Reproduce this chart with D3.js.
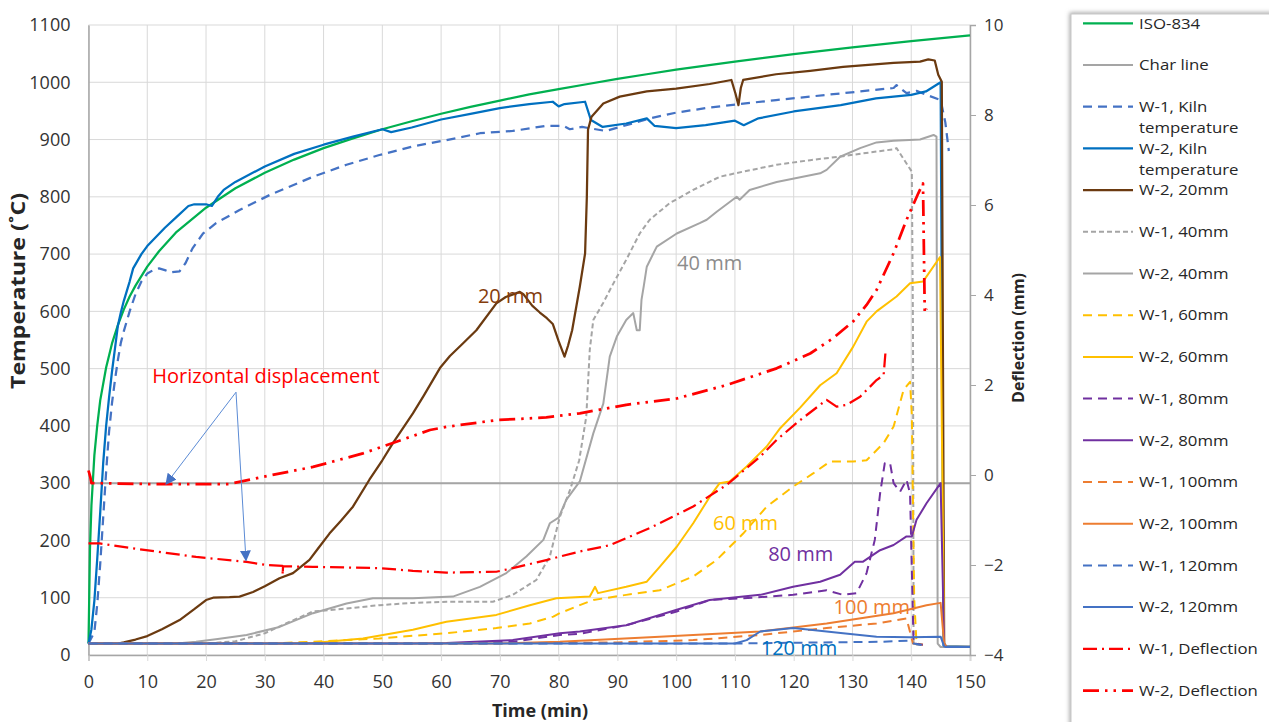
<!DOCTYPE html>
<html>
<head>
<meta charset="utf-8">
<script src="https://cdn.jsdelivr.net/npm/d3@7"></script>
<style>
  html, body { margin: 0; padding: 0; background: #ffffff; }
  svg { display: block; font-family: "Open Sans", "Noto Sans", sans-serif; }
</style>
</head>
<body>
<svg id="chart" width="1269" height="722"></svg>
<script>
// ---- Data: [time (min), temperature (°C)] ----
const iso834 = [[0,20],[0.25,185],[0.5,261],[1,349],[1.5,402],[2,445],[3,502],[4,544],[5,576],[6,603],[7,626],[8,645],[10,678],[12,705],[15,739],[20,781],[25,815],[30,842],[35,865],[40,885],[45,902],[50,918],[55,932],[60,945],[65,957],[70,968],[75,979],[80,988],[85,997],[90,1006],[95,1014],[100,1022],[110,1036],[120,1049],[130,1061],[140,1072],[150,1082]];
const charLine = [[0,300],[150,300]];
const w1Kiln = [[0,20],[1,40],[1.5,90],[2,160],[2.5,240],[3,320],[3.5,390],[4,440],[4.5,480],[5,515],[5.5,545],[6,565],[7,600],[8,630],[9,652],[10,666],[11,672],[12,675],[13,672],[14,668],[15.5,670],[16.5,684],[17.7,710],[19.5,736],[21.7,754],[25.7,777],[30.8,803],[38.2,835],[43.9,856],[49.5,873],[55.2,888],[60.9,899],[66.6,911],[72.2,915],[77.9,924],[80.8,924],[81.9,918],[84,922],[88,915],[91.5,925],[95.5,937],[100,947],[105.7,956],[110.8,962],[117,969],[125.6,978],[137,990],[137.5,995],[139.2,981],[140.9,985],[142.6,978],[145,969],[145.8,930],[146.4,880]];
const w2Kiln = [[0,20],[0.5,45],[1,95],[1.5,170],[2,250],[2.5,335],[3,400],[3.5,450],[4,495],[4.5,535],[5,575],[5.5,598],[6,618],[7,652],[7.6,675],[9,700],[10,714],[13,746],[15,765],[17,784],[18,787],[20,787],[21,784],[22,800],[23,812],[25,826],[30,853],[35,875],[40,891],[45,905],[50,918],[51.5,913],[55,921],[60,935],[65,945],[70,955],[75,962],[79,966],[80,958],[81,962],[84.5,966],[85.5,934],[87.5,922],[91.5,928],[95,937],[96.3,924],[100,920],[105,925],[110,933],[111.5,925],[114,937],[120,949],[128,960],[134,972],[140,978],[142.5,984],[145,1000],[145.5,15],[150,14]];
const w2_20mm = [[0,20],[5,20],[6,22],[8,27],[10,33],[12.5,45],[15.5,61],[18,80],[20,96],[21.2,100],[24,101],[25.7,102],[28,110],[30,120],[32.5,134],[34.8,143],[37.6,166],[39,185],[41,212],[43,235],[45,259],[47.8,306],[50,340],[51.8,370],[55.2,422],[57,452],[59.8,501],[61.5,522],[63.7,544],[66,567],[69.4,614],[71,625],[73.4,634],[74,630],[75.5,610],[76.8,598],[78,588],[79,578],[80,548],[81,521],[81.6,540],[82.3,567],[83.6,643],[84.5,701],[84.8,800],[85,917],[85.6,940],[87.6,963],[90.4,975],[95,984],[100,989],[105.7,997],[109.4,1004],[110.1,980],[110.6,960],[111,990],[111.4,1004],[117,1014],[122.8,1020],[128.4,1027],[137,1034],[141.5,1036],[142.9,1040],[144,1038],[144.6,1013],[145.2,1001],[145.6,20],[146,14],[150,14]];
const w1_40mm = [[0,20],[20,20],[25,24],[30,38],[33.6,55],[38.2,76],[43.9,81],[49.5,87],[55.2,91],[60.9,93],[68.8,93],[72.2,105],[76.2,131],[78.5,172],[80.2,241],[82,290],[83.5,340],[84.7,416],[85.3,533],[85.9,585],[87.6,615],[88.7,637],[91.5,690],[93.8,736],[95.5,760],[98.9,789],[102.9,812],[107.4,835],[111.4,844],[117.1,856],[122.8,864],[128.4,871],[134.1,879],[137,883],[137.5,885],[140.1,844],[140.3,567],[140.4,20],[141,18],[142,18]];
const w2_40mm = [[0,20],[15,20],[18.3,23],[22,28],[26.9,35],[32.5,49],[38.2,73],[43.9,90],[48.4,99],[55.2,99],[62,102],[66.6,119],[71.1,143],[74.5,172],[77.4,201],[78.5,230],[80,240],[81.3,271],[83.6,303],[85.9,387],[87.6,439],[88.7,521],[89.9,556],[91.5,585],[92.7,597],[93.3,567],[93.8,567],[94.1,620],[94.5,645],[95,678],[96.7,713],[100.1,736],[104,754],[105.2,760],[106.9,774],[110.3,800],[110.8,795],[112.5,812],[117.1,826],[124.5,841],[125.6,847],[127.9,870],[131.3,885],[134.1,895],[137,898],[141.5,900],[143.8,908],[144.3,905],[144.5,20],[145,14],[150,14]];
const w1_60mm = [[0,20],[30,20],[38.2,23],[49.5,29],[60.9,38],[69.4,47],[75.1,55],[79.1,67],[80.2,73],[83.6,87],[85.9,96],[91.5,105],[97.2,113],[102.9,137],[106.9,166],[111.4,212],[115.4,259],[119.9,294],[123.3,317],[126.2,338],[130.1,338],[132.4,340],[135.3,370],[137,399],[138.7,463],[139.8,477],[140.1,420],[140.5,100],[140.9,20],[142,18]];
const w2_60mm = [[0,20],[35,20],[38.2,21],[46.7,29],[55.2,44],[60.9,58],[69.4,70],[75.1,87],[79.6,99],[85.3,102],[86.2,119],[86.7,108],[91.5,119],[95,128],[97.2,154],[100.1,189],[102.9,230],[105.7,276],[107.4,300],[109.1,303],[112,329],[115.4,364],[117.7,396],[121.1,432],[124.5,471],[127.3,492],[130.1,538],[132.4,582],[134.1,600],[137.5,626],[139.8,649],[142,652],[144.9,695],[145.6,20],[146,14],[150,14]];
const w1_80mm = [[0,20],[60,20],[72.2,23],[80.2,35],[83.6,37],[91.5,52],[100.1,76],[105.7,96],[111.4,99],[119.9,105],[125.6,113],[128.4,105],[130.7,108],[132.4,143],[133.8,201],[134.7,282],[135.5,335],[136.4,335],[137,300],[138.1,285],[139.2,306],[139.8,282],[140.1,150],[140.4,20],[142,18]];
const w2_80mm = [[0,20],[55,20],[60.9,21],[72.2,26],[80.2,38],[83.6,41],[91.5,52],[100.1,79],[105.7,96],[114.3,105],[119.9,119],[124.5,128],[127.9,140],[130.4,163],[131.8,163],[134.7,183],[137,192],[139.2,207],[140.1,207],[140.9,236],[142.6,265],[145,300],[145.6,20],[146,14],[150,14]];
const w1_100mm = [[0,20],[70,20],[90,22],[102.9,26],[114.3,35],[125.6,47],[134.1,55],[139.2,64],[139.8,40],[140.3,20],[142,18]];
const w2_100mm = [[0,20],[70,20],[80.2,23],[97.2,32],[114.3,41],[125.6,55],[137,73],[142.6,87],[145,91],[145.6,20],[146,14],[150,14]];
const w1_120mm = [[0,20],[110,20],[125,22],[135,23],[139.5,25],[140.4,20],[142,17]];
const w2_120mm = [[0,20],[110,20],[112,26],[114.3,41],[117.1,44],[119.9,47],[122.8,44],[128.4,38],[134.1,32],[139.8,31],[145,32],[145.6,15],[146,14],[150,14]];

// ---- Data: [time (min), deflection (mm)] ----
const w1Deflection = [[0,-1.52],[1.9,-1.52],[9.8,-1.67],[18.3,-1.82],[26.9,-1.93],[30.3,-2.0],[33,-2.02],[33.05,-2.22],[33.1,-2.03],[38.2,-2.04],[49.5,-2.07],[55.2,-2.13],[60.9,-2.17],[69.4,-2.15],[72.2,-2.07],[77.9,-1.89],[83.6,-1.7],[88.7,-1.56],[95.5,-1.18],[102.9,-0.7],[108.6,-0.22],[114.3,0.41],[117.1,0.78],[121.1,1.22],[125.6,1.67],[127.3,1.52],[129,1.56],[131.3,1.74],[134.1,2.11],[135.3,2.22],[135.6,2.7]];
const w2Deflection = [[0,0.1],[0.3,-0.04],[0.5,-0.18],[9.8,-0.2],[24,-0.2],[29.7,-0.04],[38.2,0.18],[46.7,0.48],[52.4,0.74],[58.1,1.0],[60.9,1.07],[69.4,1.22],[77.9,1.28],[83.6,1.37],[91.5,1.56],[100.1,1.7],[108.6,2.0],[117.1,2.37],[122.8,2.7],[126.7,3.04],[130.1,3.41],[132.4,3.78],[134.1,4.11],[137,4.93],[139.2,5.67],[141.2,6.26],[142,6.48],[142.3,3.6],[142.6,3.7]];

// ---- Axis ticks ----
const timeTicks = d3.range(0, 151, 10);
const tempTicks = d3.range(0, 1101, 100);
const deflTicks = d3.range(-4, 11, 2);

// ---- Series definitions ----
const series = [
  { name: "ISO-834", data: iso834, color: "#00B050", width: 2.25, dash: null, axis: "T" },
  { name: "Char line", data: charLine, color: "#A5A5A5", width: 2, dash: null, axis: "T" },
  { name: ["W-1, Kiln", "temperature"], data: w1Kiln, color: "#4472C4", width: 2.25, dash: "9,6", axis: "T" },
  { name: ["W-2, Kiln", "temperature"], data: w2Kiln, color: "#0070C0", width: 2.25, dash: null, axis: "T" },
  { name: "W-2, 20mm", data: w2_20mm, color: "#6B3A10", width: 2.25, dash: null, axis: "T" },
  { name: "W-1, 40mm", data: w1_40mm, color: "#A5A5A5", width: 2, dash: "5,3", axis: "T" },
  { name: "W-2, 40mm", data: w2_40mm, color: "#A5A5A5", width: 2, dash: null, axis: "T" },
  { name: "W-1, 60mm", data: w1_60mm, color: "#FFC000", width: 2, dash: "9,6", axis: "T" },
  { name: "W-2, 60mm", data: w2_60mm, color: "#FFC000", width: 2, dash: null, axis: "T" },
  { name: "W-1, 80mm", data: w1_80mm, color: "#7030A0", width: 2, dash: "9,6", axis: "T" },
  { name: "W-2, 80mm", data: w2_80mm, color: "#7030A0", width: 2, dash: null, axis: "T" },
  { name: "W-1, 100mm", data: w1_100mm, color: "#ED7D31", width: 2, dash: "9,6", axis: "T" },
  { name: "W-2, 100mm", data: w2_100mm, color: "#ED7D31", width: 2, dash: null, axis: "T" },
  { name: "W-1, 120mm", data: w1_120mm, color: "#4472C4", width: 2, dash: "9,6", axis: "T" },
  { name: "W-2, 120mm", data: w2_120mm, color: "#4472C4", width: 2, dash: null, axis: "T" },
  { name: "W-1, Deflection", data: w1Deflection, color: "#FF0000", width: 2.25, dash: "14,5,2,5", axis: "D" },
  { name: "W-2, Deflection", data: w2Deflection, color: "#FF0000", width: 2.75, dash: "16,6,2.5,6,2.5,6", axis: "D" }
];

// ---- Layout ----
const svg = d3.select("#chart");
const plot = { left: 88.5, right: 970, top: 25, bottom: 655 };

const x = d3.scaleLinear().domain([0, 150]).range([plot.left, plot.right]);
const yT = d3.scaleLinear().domain([0, 1100]).range([plot.bottom, plot.top]);
const yD = d3.scaleLinear().domain([-4, 10]).range([plot.bottom, plot.top]);

const textColor = "#333333";
const gridColor = "#D9D9D9";
const axisColor = "#A6A6A6";

// Gridlines
const grid = svg.append("g");
grid.selectAll("line.h").data(tempTicks).join("line")
  .attr("x1", plot.left).attr("x2", plot.right)
  .attr("y1", d => yT(d)).attr("y2", d => yT(d))
  .attr("stroke", gridColor).attr("stroke-width", 1);
grid.selectAll("line.v").data(timeTicks).join("line")
  .attr("x1", d => x(d)).attr("x2", d => x(d))
  .attr("y1", plot.top).attr("y2", plot.bottom)
  .attr("stroke", gridColor).attr("stroke-width", 1);

// Bottom axis
const xAxis = svg.append("g")
  .attr("transform", `translate(0,${plot.bottom})`)
  .call(d3.axisBottom(x).tickValues(timeTicks).tickSize(6).tickPadding(14).tickFormat(d3.format("d")));
xAxis.select(".domain").attr("stroke", axisColor).attr("stroke-width", 1.5);
xAxis.selectAll(".tick line").attr("stroke", gridColor);
xAxis.selectAll("text").attr("fill", textColor).style("font-size", "18px").style("font-family", "Open Sans");

// Left axis
const yAxisL = svg.append("g")
  .attr("transform", `translate(${plot.left},0)`)
  .call(d3.axisLeft(yT).tickValues(tempTicks).tickSize(0).tickPadding(18).tickFormat(d3.format("d")));
yAxisL.select(".domain").attr("stroke", axisColor).attr("stroke-width", 1.5);
yAxisL.selectAll("text").attr("fill", textColor).style("font-size", "18px").style("font-family", "Open Sans");

// Right axis
const yAxisR = svg.append("g")
  .attr("transform", `translate(${plot.right},0)`)
  .call(d3.axisRight(yD).tickValues(deflTicks).tickSize(6).tickPadding(8).tickFormat(d3.format("d")));
yAxisR.select(".domain").attr("stroke", axisColor).attr("stroke-width", 1.5);
yAxisR.selectAll(".tick line").attr("stroke", axisColor);
yAxisR.selectAll("text").attr("fill", textColor).style("font-size", "17px").style("font-family", "Open Sans");

// Axis titles
svg.append("text")
  .attr("transform", "translate(25,291) rotate(-90)")
  .attr("text-anchor", "middle")
  .attr("fill", "#262626").style("font-weight", "bold").style("font-size", "19px")
  .attr("textLength", 196).attr("lengthAdjust", "spacingAndGlyphs")
  .text("Temperature (˚C)");
svg.append("text")
  .attr("transform", "translate(1024,338) rotate(-90)")
  .attr("text-anchor", "middle")
  .attr("fill", "#262626").style("font-weight", "bold").style("font-size", "16px")
  .attr("textLength", 130).attr("lengthAdjust", "spacingAndGlyphs")
  .text("Deflection (mm)");
svg.append("text")
  .attr("x", 540).attr("y", 717)
  .attr("text-anchor", "middle")
  .attr("fill", "#262626").style("font-weight", "bold").style("font-size", "18px")
  .text("Time (min)");

// Series lines
const lineT = d3.line().x(d => x(d[0])).y(d => yT(d[1]));
const lineD = d3.line().x(d => x(d[0])).y(d => yD(d[1]));

const lines = svg.append("g");
series.forEach(s => {
  lines.append("path")
    .datum(s.data)
    .attr("d", s.axis === "T" ? lineT : lineD)
    .attr("fill", "none")
    .attr("stroke", s.color)
    .attr("stroke-width", s.width)
    .attr("stroke-dasharray", s.dash)
    .attr("stroke-linejoin", "round");
});

// Curve labels
const labels = [
  { text: "20 mm", t: 71.8, v: 614, color: "#843C0C" },
  { text: "40 mm", t: 105.7, v: 672, color: "#8C8C8C" },
  { text: "60 mm", t: 111.8, v: 218, color: "#FFC000" },
  { text: "80 mm", t: 121.2, v: 165, color: "#7030A0" },
  { text: "100 mm", t: 133.3, v: 71, color: "#ED7D31" },
  { text: "120 mm", t: 120.9, v: 0, color: "#0070C0" }
];
svg.append("g").selectAll("text").data(labels).join("text")
  .attr("x", d => x(d.t)).attr("y", d => yT(d.v))
  .attr("text-anchor", "middle")
  .attr("fill", d => d.color)
  .style("font-size", "20px")
  .text(d => d.text);

// Horizontal displacement annotation with arrows
const defs = svg.append("defs");
defs.append("marker")
  .attr("id", "arrowHead").attr("viewBox", "0 0 10 10")
  .attr("refX", 9).attr("refY", 5)
  .attr("markerWidth", 11).attr("markerHeight", 11)
  .attr("markerUnits", "userSpaceOnUse")
  .attr("orient", "auto")
  .append("path").attr("d", "M0,0 L10,5 L0,10 z").attr("fill", "#4472C4");

svg.append("text")
  .attr("x", 266).attr("y", 383)
  .attr("text-anchor", "middle")
  .attr("fill", "#FF0000").style("font-size", "20px")
  .text("Horizontal displacement");

const arrowOrigin = [25.1, 1.84];
const arrowTargets = [[13.2, -0.2], [26.8, -1.9]];
svg.append("g").selectAll("line").data(arrowTargets).join("line")
  .attr("x1", x(arrowOrigin[0])).attr("y1", yD(arrowOrigin[1]))
  .attr("x2", d => x(d[0])).attr("y2", d => yD(d[1]))
  .attr("stroke", "#5B8BD5").attr("stroke-width", 1)
  .attr("marker-end", "url(#arrowHead)");

// Legend
const filter = defs.append("filter").attr("id", "legendShadow")
  .attr("x", "-10%").attr("y", "-10%").attr("width", "130%").attr("height", "130%");
filter.append("feDropShadow").attr("dx", -1).attr("dy", -1).attr("stdDeviation", 2)
  .attr("flood-color", "#808080").attr("flood-opacity", 0.7);

svg.append("rect")
  .attr("x", 1071).attr("y", 14).attr("width", 230).attr("height", 740)
  .attr("fill", "#ffffff").attr("stroke", "#C8C8C8").attr("stroke-width", 1)
  .attr("filter", "url(#legendShadow)");

const legend = svg.append("g");
const legendTop = 23.3, legendStep = 41.7;
series.forEach((s, i) => {
  const cy = legendTop + i * legendStep;
  legend.append("line")
    .attr("x1", 1083).attr("x2", 1133)
    .attr("y1", cy).attr("y2", cy)
    .attr("stroke", s.color)
    .attr("stroke-width", s.width)
    .attr("stroke-dasharray", s.dash);
  const names = Array.isArray(s.name) ? s.name : [s.name];
  names.forEach((n, j) => {
    const t = legend.append("text")
      .attr("x", 1139).attr("y", cy + j * 21)
      .attr("dy", "0.35em")
      .attr("fill", "#262626")
      .style("font-size", "15px")
      .text(n);
    // widen slightly to the legend's letter proportions
    const natural = t.node().getComputedTextLength();
    t.attr("textLength", natural * 1.12).attr("lengthAdjust", "spacingAndGlyphs");
  });
});
</script>
</body>
</html>
